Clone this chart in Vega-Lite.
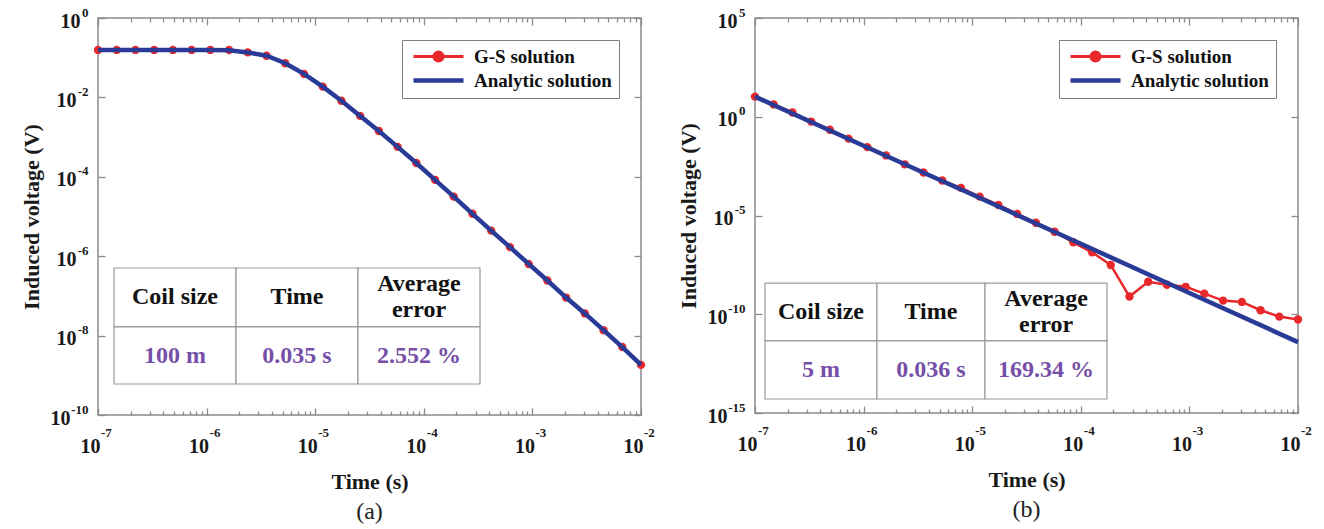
{
  "$schema": "https://vega.github.io/schema/vega-lite/v6.json",
  "background": "white",
  "padding": {"left": 19, "top": 5, "right": 10, "bottom": 0},
  "spacing": 20,
  "datasets": {
    "a": [
      {"t": 1e-7, "v": 0.157, "series": "G-S solution"},
      {"t": 1.4874e-7, "v": 0.157, "series": "G-S solution"},
      {"t": 2.2122e-7, "v": 0.157, "series": "G-S solution"},
      {"t": 3.2903e-7, "v": 0.157, "series": "G-S solution"},
      {"t": 4.8939e-7, "v": 0.157, "series": "G-S solution"},
      {"t": 7.279e-7, "v": 0.157, "series": "G-S solution"},
      {"t": 1.0827e-6, "v": 0.157, "series": "G-S solution"},
      {"t": 1.6103e-6, "v": 0.156, "series": "G-S solution"},
      {"t": 2.395e-6, "v": 0.136, "series": "G-S solution"},
      {"t": 3.5622e-6, "v": 0.112, "series": "G-S solution"},
      {"t": 5.2983e-6, "v": 0.0725, "series": "G-S solution"},
      {"t": 7.8805e-6, "v": 0.0392, "series": "G-S solution"},
      {"t": 1.1721e-5, "v": 0.0187, "series": "G-S solution"},
      {"t": 1.7433e-5, "v": 0.00822, "series": "G-S solution"},
      {"t": 2.5929e-5, "v": 0.00342, "series": "G-S solution"},
      {"t": 3.8566e-5, "v": 0.00142, "series": "G-S solution"},
      {"t": 5.7362e-5, "v": 5.68e-4, "series": "G-S solution"},
      {"t": 8.5317e-5, "v": 2.22e-4, "series": "G-S solution"},
      {"t": 1.269e-4, "v": 8.39e-5, "series": "G-S solution"},
      {"t": 1.8874e-4, "v": 3.16e-5, "series": "G-S solution"},
      {"t": 2.8072e-4, "v": 1.17e-5, "series": "G-S solution"},
      {"t": 4.1753e-4, "v": 4.41e-6, "series": "G-S solution"},
      {"t": 6.2102e-4, "v": 1.69e-6, "series": "G-S solution"},
      {"t": 9.2367e-4, "v": 6.38e-7, "series": "G-S solution"},
      {"t": 1.3738e-3, "v": 2.45e-7, "series": "G-S solution"},
      {"t": 2.0434e-3, "v": 9.08e-8, "series": "G-S solution"},
      {"t": 3.0392e-3, "v": 3.62e-8, "series": "G-S solution"},
      {"t": 4.5204e-3, "v": 1.37e-8, "series": "G-S solution"},
      {"t": 6.7234e-3, "v": 5.15e-9, "series": "G-S solution"},
      {"t": 1e-2, "v": 1.83e-9, "series": "G-S solution"},
      {"t": 1e-7, "v": 0.157, "series": "Analytic solution"},
      {"t": 1.0827e-6, "v": 0.157, "series": "Analytic solution"},
      {"t": 1.6103e-6, "v": 0.155, "series": "Analytic solution"},
      {"t": 2.395e-6, "v": 0.136, "series": "Analytic solution"},
      {"t": 3.5622e-6, "v": 0.112, "series": "Analytic solution"},
      {"t": 5.2983e-6, "v": 0.0725, "series": "Analytic solution"},
      {"t": 7.8805e-6, "v": 0.0392, "series": "Analytic solution"},
      {"t": 1.1721e-5, "v": 0.0187, "series": "Analytic solution"},
      {"t": 1.7433e-5, "v": 0.00822, "series": "Analytic solution"},
      {"t": 2.5929e-5, "v": 0.00342, "series": "Analytic solution"},
      {"t": 3.8566e-5, "v": 0.00142, "series": "Analytic solution"},
      {"t": 5.7362e-5, "v": 5.68e-4, "series": "Analytic solution"},
      {"t": 8.5317e-5, "v": 2.22e-4, "series": "Analytic solution"},
      {"t": 1.269e-4, "v": 8.39e-5, "series": "Analytic solution"},
      {"t": 1.8874e-4, "v": 3.16e-5, "series": "Analytic solution"},
      {"t": 2.8072e-4, "v": 1.17e-5, "series": "Analytic solution"},
      {"t": 4.1753e-4, "v": 4.41e-6, "series": "Analytic solution"},
      {"t": 6.2102e-4, "v": 1.69e-6, "series": "Analytic solution"},
      {"t": 9.2367e-4, "v": 6.38e-7, "series": "Analytic solution"},
      {"t": 1.3738e-3, "v": 2.45e-7, "series": "Analytic solution"},
      {"t": 2.0434e-3, "v": 9.08e-8, "series": "Analytic solution"},
      {"t": 3.0392e-3, "v": 3.62e-8, "series": "Analytic solution"},
      {"t": 4.5204e-3, "v": 1.37e-8, "series": "Analytic solution"},
      {"t": 6.7234e-3, "v": 5.15e-9, "series": "Analytic solution"},
      {"t": 1e-2, "v": 1.83e-9, "series": "Analytic solution"}
    ],
    "b": [
      {"t": 1e-7, "v": 10.4, "series": "G-S solution"},
      {"t": 1.4874e-7, "v": 4.2, "series": "G-S solution"},
      {"t": 2.2122e-7, "v": 1.65, "series": "G-S solution"},
      {"t": 3.2903e-7, "v": 0.57, "series": "G-S solution"},
      {"t": 4.8939e-7, "v": 0.22, "series": "G-S solution"},
      {"t": 7.279e-7, "v": 0.078, "series": "G-S solution"},
      {"t": 1.0827e-6, "v": 0.029, "series": "G-S solution"},
      {"t": 1.6103e-6, "v": 0.011, "series": "G-S solution"},
      {"t": 2.395e-6, "v": 0.0039, "series": "G-S solution"},
      {"t": 3.5622e-6, "v": 0.0015, "series": "G-S solution"},
      {"t": 5.2983e-6, "v": 5.9e-4, "series": "G-S solution"},
      {"t": 7.8805e-6, "v": 2.5e-4, "series": "G-S solution"},
      {"t": 1.1721e-5, "v": 9e-5, "series": "G-S solution"},
      {"t": 1.7433e-5, "v": 3.4e-5, "series": "G-S solution"},
      {"t": 2.5929e-5, "v": 1.2e-5, "series": "G-S solution"},
      {"t": 3.8566e-5, "v": 4.3e-6, "series": "G-S solution"},
      {"t": 5.7362e-5, "v": 1.5e-6, "series": "G-S solution"},
      {"t": 8.5317e-5, "v": 4.4e-7, "series": "G-S solution"},
      {"t": 1.269e-4, "v": 1.37e-7, "series": "G-S solution"},
      {"t": 1.8874e-4, "v": 3.1e-8, "series": "G-S solution"},
      {"t": 2.8072e-4, "v": 7.9e-10, "series": "G-S solution"},
      {"t": 4.1753e-4, "v": 4.4e-9, "series": "G-S solution"},
      {"t": 6.2102e-4, "v": 3.1e-9, "series": "G-S solution"},
      {"t": 9.2367e-4, "v": 2.45e-9, "series": "G-S solution"},
      {"t": 1.3738e-3, "v": 1.1e-9, "series": "G-S solution"},
      {"t": 2.0434e-3, "v": 4.9e-10, "series": "G-S solution"},
      {"t": 3.0392e-3, "v": 4.2e-10, "series": "G-S solution"},
      {"t": 4.5204e-3, "v": 1.6e-10, "series": "G-S solution"},
      {"t": 6.7234e-3, "v": 7.6e-11, "series": "G-S solution"},
      {"t": 1e-2, "v": 5.4e-11, "series": "G-S solution"},
      {"t": 1e-7, "v": 10.4, "series": "Analytic solution"},
      {"t": 1e-6, "v": 0.034, "series": "Analytic solution"},
      {"t": 1e-5, "v": 1.15e-4, "series": "Analytic solution"},
      {"t": 1e-4, "v": 3.7e-7, "series": "Analytic solution"},
      {"t": 1e-3, "v": 1.2e-9, "series": "Analytic solution"},
      {"t": 1e-2, "v": 3.9e-12, "series": "Analytic solution"}
    ],
    "tabA": [
      {"t0": 1.404e-7, "t1": 1.866e-6, "v0": 1.65e-8, "v1": 5.05e-7, "tc": 5.12e-7, "vc": 9.12e-8, "label": "Coil size", "kind": "head"},
      {"t0": 1.866e-6, "t1": 2.477e-5, "v0": 1.65e-8, "v1": 5.05e-7, "tc": 6.8e-6, "vc": 9.12e-8, "label": "Time", "kind": "head"},
      {"t0": 2.477e-5, "t1": 3.293e-4, "v0": 1.65e-8, "v1": 5.05e-7, "tc": 9.03e-5, "vc": 9.12e-8, "label": "Average\nerror", "kind": "head"},
      {"t0": 1.404e-7, "t1": 1.866e-6, "v0": 6.04e-10, "v1": 1.65e-8, "tc": 5.12e-7, "vc": 3.15e-9, "label": "100 m", "kind": "val"},
      {"t0": 1.866e-6, "t1": 2.477e-5, "v0": 6.04e-10, "v1": 1.65e-8, "tc": 6.8e-6, "vc": 3.15e-9, "label": "0.035 s", "kind": "val"},
      {"t0": 2.477e-5, "t1": 3.293e-4, "v0": 6.04e-10, "v1": 1.65e-8, "tc": 9.03e-5, "vc": 3.15e-9, "label": "2.552 %", "kind": "val"}
    ],
    "tabB": [
      {"t0": 1.236e-7, "t1": 1.327e-6, "v0": 4.47e-12, "v1": 3.8e-9, "tc": 4.05e-7, "vc": 1.35e-10, "label": "Coil size", "kind": "head"},
      {"t0": 1.327e-6, "t1": 1.312e-5, "v0": 4.47e-12, "v1": 3.8e-9, "tc": 4.17e-6, "vc": 1.35e-10, "label": "Time", "kind": "head"},
      {"t0": 1.312e-5, "t1": 1.742e-4, "v0": 4.47e-12, "v1": 3.8e-9, "tc": 4.79e-5, "vc": 1.35e-10, "label": "Average\nerror", "kind": "head"},
      {"t0": 1.236e-7, "t1": 1.327e-6, "v0": 5.13e-15, "v1": 4.47e-12, "tc": 4.05e-7, "vc": 1.51e-13, "label": "5 m", "kind": "val"},
      {"t0": 1.327e-6, "t1": 1.312e-5, "v0": 5.13e-15, "v1": 4.47e-12, "tc": 4.17e-6, "vc": 1.51e-13, "label": "0.036 s", "kind": "val"},
      {"t0": 1.312e-5, "t1": 1.742e-4, "v0": 5.13e-15, "v1": 4.47e-12, "tc": 4.79e-5, "vc": 1.51e-13, "label": "169.34 %", "kind": "val"}
    ]
  },
  "hconcat": [
    {
      "width": 543,
      "height": 397,
      "title": {"text": "(a)", "orient": "bottom", "frame": "group", "anchor": "middle", "font": "Liberation Serif", "fontSize": 24, "fontWeight": "normal", "color": "#222", "offset": 8},
      "layer": [
        {
          "data": {"name": "tabA"},
          "mark": {"type": "rect", "fill": "white", "stroke": "#9a9a9a", "strokeWidth": 1.2},
          "encoding": {
            "x": {"field": "t0", "type": "quantitative", "scale": {"type": "log", "domain": [1e-7, 0.01], "nice": false}, "axis": null},
            "x2": {"field": "t1"},
            "y": {"field": "v0", "type": "quantitative", "scale": {"type": "log", "domain": [1e-10, 1], "nice": false}, "axis": null},
            "y2": {"field": "v1"}
          }
        },
        {
          "data": {"name": "tabA"},
          "transform": [{"filter": "indexof(datum.label, '\\n') < 0"}],
          "mark": {"type": "text", "font": "Liberation Serif", "fontWeight": "bold", "fontSize": 24, "baseline": "middle", "align": "center"},
          "encoding": {
            "x": {"field": "tc", "type": "quantitative", "scale": {"type": "log", "domain": [1e-7, 0.01], "nice": false},
              "axis": {"orient": "bottom", "title": null, "ticks": false, "values": [1e-7, 1e-6, 1e-5, 1e-4, 1e-3, 1e-2],
                "labelExpr": "'' + round(log(datum.value)/LN10)", "labelFontSize": 13, "labelAlign": "left", "labelBaseline": "top", "labelOffset": 2.5, "labelPadding": 11}},
            "y": {"field": "vc", "type": "quantitative", "scale": {"type": "log", "domain": [1e-10, 1], "nice": false},
              "axis": {"orient": "left", "title": null, "ticks": false, "values": [1, 0.01, 1e-4, 1e-6, 1e-8, 1e-10],
                "labelExpr": "'' + round(log(datum.value)/LN10)", "labelFontSize": 13, "labelAlign": "right", "labelOffset": -6, "labelPadding": 10}},
            "text": {"field": "label"},
            "color": {"condition": {"test": "datum.kind === 'val'", "value": "#7650a8"}, "value": "#111111"}
          }
        },
        {
          "data": {"name": "tabA"},
          "transform": [{"filter": "indexof(datum.label, '\\n') >= 0"}],
          "mark": {"type": "text", "font": "Liberation Serif", "fontWeight": "bold", "fontSize": 24, "lineBreak": "\n", "lineHeight": 26, "dy": -13, "baseline": "middle", "align": "center"},
          "encoding": {
            "x": {"field": "tc", "type": "quantitative", "scale": {"type": "log", "domain": [1e-7, 0.01], "nice": false}, "axis": null},
            "y": {"field": "vc", "type": "quantitative", "scale": {"type": "log", "domain": [1e-10, 1], "nice": false}, "axis": null},
            "text": {"field": "label"},
            "color": {"value": "#111111"}
          }
        },
        {
          "data": {"name": "a"},
          "transform": [{"filter": "datum.series === 'G-S solution'"}],
          "mark": {"type": "line", "strokeWidth": 2.5, "point": {"filled": true, "size": 70, "opacity": 1}},
          "encoding": {
            "x": {"field": "t", "type": "quantitative", "scale": {"type": "log", "domain": [1e-7, 0.01], "nice": false},
              "axis": {"orient": "bottom", "title": "Time (s)",
                "values": [1e-7,2e-7,3e-7,4e-7,5e-7,6e-7,7e-7,8e-7,9e-7,1e-6,2e-6,3e-6,4e-6,5e-6,6e-6,7e-6,8e-6,9e-6,1e-5,2e-5,3e-5,4e-5,5e-5,6e-5,7e-5,8e-5,9e-5,1e-4,2e-4,3e-4,4e-4,5e-4,6e-4,7e-4,8e-4,9e-4,1e-3,2e-3,3e-3,4e-3,5e-3,6e-3,7e-3,8e-3,9e-3,1e-2],
                "labelExpr": "abs(log(datum.value)/LN10 - round(log(datum.value)/LN10)) > 0.01 ? '' : '10'",
                "tickSize": {"condition": {"test": "abs(log(datum.value)/LN10 - round(log(datum.value)/LN10)) < 0.01", "value": -7}, "value": -4},
                "labelBaseline": "top", "labelOffset": -8, "labelPadding": 28, "titlePadding": 12}},
            "y": {"field": "v", "type": "quantitative", "scale": {"type": "log", "domain": [1e-10, 1], "nice": false},
              "axis": {"orient": "left", "title": "Induced voltage (V)",
                "values": [1, 0.01, 1e-4, 1e-6, 1e-8, 1e-10],
                "labelExpr": "'10'",
                "tickSize": -7, "labelOffset": 3,
                "labelPadding": {"condition": [{"test": "datum.value >= 0.5", "value": 25}, {"test": "datum.value < 1e-9", "value": 35}], "value": 29},
                "titlePadding": 7}},
            "color": {"field": "series", "type": "nominal",
              "scale": {"domain": ["G-S solution", "Analytic solution"], "range": ["#e8282b", "#2a3a97"]},
              "legend": {"title": null, "orient": "top-right", "offset": 22, "padding": 7, "strokeColor": "#7f7f7f", "fillColor": "white",
                "labelFont": "Liberation Serif", "labelFontWeight": "bold", "labelFontSize": 19, "labelColor": "#111111",
                "labelOffset": 46, "symbolSize": 100, "symbolType": "M-1,0H9", "symbolStrokeWidth": 3, "rowPadding": 3,
                "encode": {"symbols": {"update": {
                  "shape": {"signal": "datum.value === 'G-S solution' ? 'M-1,0H9M4.9,0A0.9,0.9 0 1,1 3.1,0A0.9,0.9 0 1,1 4.9,0' : 'M-1,0H9'"},
                  "fill": {"signal": "datum.value === 'G-S solution' ? '#e8282b' : 'transparent'"},
                  "strokeWidth": {"signal": "datum.value === 'G-S solution' ? 3 : 4.5"}}}}}}
          }
        },
        {
          "data": {"name": "a"},
          "transform": [{"filter": "datum.series === 'Analytic solution'"}],
          "mark": {"type": "line", "strokeWidth": 4.5},
          "encoding": {
            "x": {"field": "t", "type": "quantitative", "scale": {"type": "log", "domain": [1e-7, 0.01], "nice": false},
              "axis": {"orient": "top", "title": null, "labels": false,
                "values": [1e-7,2e-7,3e-7,4e-7,5e-7,6e-7,7e-7,8e-7,9e-7,1e-6,2e-6,3e-6,4e-6,5e-6,6e-6,7e-6,8e-6,9e-6,1e-5,2e-5,3e-5,4e-5,5e-5,6e-5,7e-5,8e-5,9e-5,1e-4,2e-4,3e-4,4e-4,5e-4,6e-4,7e-4,8e-4,9e-4,1e-3,2e-3,3e-3,4e-3,5e-3,6e-3,7e-3,8e-3,9e-3,1e-2],
                "tickSize": {"condition": {"test": "abs(log(datum.value)/LN10 - round(log(datum.value)/LN10)) < 0.01", "value": -7}, "value": -4}}},
            "y": {"field": "v", "type": "quantitative", "scale": {"type": "log", "domain": [1e-10, 1], "nice": false},
              "axis": {"orient": "right", "title": null, "labels": false, "values": [1, 0.01, 1e-4, 1e-6, 1e-8, 1e-10], "tickSize": -7}},
            "color": {"field": "series", "type": "nominal", "scale": {"domain": ["G-S solution", "Analytic solution"], "range": ["#e8282b", "#2a3a97"]}}
          }
        }
      ],
      "resolve": {"axis": {"x": "independent", "y": "independent"}}
    },
    {
      "width": 543,
      "height": 395,
      "title": {"text": "(b)", "orient": "bottom", "frame": "group", "anchor": "middle", "font": "Liberation Serif", "fontSize": 24, "fontWeight": "normal", "color": "#222", "offset": 8},
      "layer": [
        {
          "data": {"name": "tabB"},
          "mark": {"type": "rect", "fill": "white", "stroke": "#9a9a9a", "strokeWidth": 1.2},
          "encoding": {
            "x": {"field": "t0", "type": "quantitative", "scale": {"type": "log", "domain": [1e-7, 0.01], "nice": false}, "axis": null},
            "x2": {"field": "t1"},
            "y": {"field": "v0", "type": "quantitative", "scale": {"type": "log", "domain": [1e-15, 1e5], "nice": false}, "axis": null},
            "y2": {"field": "v1"}
          }
        },
        {
          "data": {"name": "tabB"},
          "transform": [{"filter": "indexof(datum.label, '\\n') < 0"}],
          "mark": {"type": "text", "font": "Liberation Serif", "fontWeight": "bold", "fontSize": 24, "baseline": "middle", "align": "center"},
          "encoding": {
            "x": {"field": "tc", "type": "quantitative", "scale": {"type": "log", "domain": [1e-7, 0.01], "nice": false},
              "axis": {"orient": "bottom", "title": null, "ticks": false, "values": [1e-7, 1e-6, 1e-5, 1e-4, 1e-3, 1e-2],
                "labelExpr": "'' + round(log(datum.value)/LN10)", "labelFontSize": 13, "labelAlign": "left", "labelBaseline": "top", "labelOffset": 2.5, "labelPadding": 11}},
            "y": {"field": "vc", "type": "quantitative", "scale": {"type": "log", "domain": [1e-15, 1e5], "nice": false},
              "axis": {"orient": "left", "title": null, "ticks": false, "values": [1e5, 1, 1e-5, 1e-10, 1e-15],
                "labelExpr": "'' + round(log(datum.value)/LN10)", "labelFontSize": 13, "labelAlign": "right", "labelOffset": -6, "labelPadding": 10}},
            "text": {"field": "label"},
            "color": {"condition": {"test": "datum.kind === 'val'", "value": "#7650a8"}, "value": "#111111"}
          }
        },
        {
          "data": {"name": "tabB"},
          "transform": [{"filter": "indexof(datum.label, '\\n') >= 0"}],
          "mark": {"type": "text", "font": "Liberation Serif", "fontWeight": "bold", "fontSize": 24, "lineBreak": "\n", "lineHeight": 26, "dy": -13, "baseline": "middle", "align": "center"},
          "encoding": {
            "x": {"field": "tc", "type": "quantitative", "scale": {"type": "log", "domain": [1e-7, 0.01], "nice": false}, "axis": null},
            "y": {"field": "vc", "type": "quantitative", "scale": {"type": "log", "domain": [1e-15, 1e5], "nice": false}, "axis": null},
            "text": {"field": "label"},
            "color": {"value": "#111111"}
          }
        },
        {
          "data": {"name": "b"},
          "transform": [{"filter": "datum.series === 'G-S solution'"}],
          "mark": {"type": "line", "strokeWidth": 2.5, "point": {"filled": true, "size": 70, "opacity": 1}},
          "encoding": {
            "x": {"field": "t", "type": "quantitative", "scale": {"type": "log", "domain": [1e-7, 0.01], "nice": false},
              "axis": {"orient": "bottom", "title": "Time (s)",
                "values": [1e-7,2e-7,3e-7,4e-7,5e-7,6e-7,7e-7,8e-7,9e-7,1e-6,2e-6,3e-6,4e-6,5e-6,6e-6,7e-6,8e-6,9e-6,1e-5,2e-5,3e-5,4e-5,5e-5,6e-5,7e-5,8e-5,9e-5,1e-4,2e-4,3e-4,4e-4,5e-4,6e-4,7e-4,8e-4,9e-4,1e-3,2e-3,3e-3,4e-3,5e-3,6e-3,7e-3,8e-3,9e-3,1e-2],
                "labelExpr": "abs(log(datum.value)/LN10 - round(log(datum.value)/LN10)) > 0.01 ? '' : '10'",
                "tickSize": {"condition": {"test": "abs(log(datum.value)/LN10 - round(log(datum.value)/LN10)) < 0.01", "value": -7}, "value": -4},
                "labelBaseline": "top", "labelOffset": -8, "labelPadding": 28, "titlePadding": 12}},
            "y": {"field": "v", "type": "quantitative", "scale": {"type": "log", "domain": [1e-15, 1e5], "nice": false},
              "axis": {"orient": "left", "title": "Induced voltage (V)",
                "values": [1e5, 1, 1e-5, 1e-10, 1e-15],
                "labelExpr": "'10'",
                "tickSize": -7, "labelOffset": 3,
                "labelPadding": {"condition": [{"test": "datum.value >= 0.5", "value": 25}, {"test": "datum.value < 1e-9", "value": 35}], "value": 29},
                "titlePadding": 7}},
            "color": {"field": "series", "type": "nominal",
              "scale": {"domain": ["G-S solution", "Analytic solution"], "range": ["#e8282b", "#2a3a97"]},
              "legend": {"title": null, "orient": "top-right", "offset": 22, "padding": 7, "strokeColor": "#7f7f7f", "fillColor": "white",
                "labelFont": "Liberation Serif", "labelFontWeight": "bold", "labelFontSize": 19, "labelColor": "#111111",
                "labelOffset": 46, "symbolSize": 100, "symbolType": "M-1,0H9", "symbolStrokeWidth": 3, "rowPadding": 3,
                "encode": {"symbols": {"update": {
                  "shape": {"signal": "datum.value === 'G-S solution' ? 'M-1,0H9M4.9,0A0.9,0.9 0 1,1 3.1,0A0.9,0.9 0 1,1 4.9,0' : 'M-1,0H9'"},
                  "fill": {"signal": "datum.value === 'G-S solution' ? '#e8282b' : 'transparent'"},
                  "strokeWidth": {"signal": "datum.value === 'G-S solution' ? 3 : 4.5"}}}}}}
          }
        },
        {
          "data": {"name": "b"},
          "transform": [{"filter": "datum.series === 'Analytic solution'"}],
          "mark": {"type": "line", "strokeWidth": 4.5},
          "encoding": {
            "x": {"field": "t", "type": "quantitative", "scale": {"type": "log", "domain": [1e-7, 0.01], "nice": false},
              "axis": {"orient": "top", "title": null, "labels": false,
                "values": [1e-7,2e-7,3e-7,4e-7,5e-7,6e-7,7e-7,8e-7,9e-7,1e-6,2e-6,3e-6,4e-6,5e-6,6e-6,7e-6,8e-6,9e-6,1e-5,2e-5,3e-5,4e-5,5e-5,6e-5,7e-5,8e-5,9e-5,1e-4,2e-4,3e-4,4e-4,5e-4,6e-4,7e-4,8e-4,9e-4,1e-3,2e-3,3e-3,4e-3,5e-3,6e-3,7e-3,8e-3,9e-3,1e-2],
                "tickSize": {"condition": {"test": "abs(log(datum.value)/LN10 - round(log(datum.value)/LN10)) < 0.01", "value": -7}, "value": -4}}},
            "y": {"field": "v", "type": "quantitative", "scale": {"type": "log", "domain": [1e-15, 1e5], "nice": false},
              "axis": {"orient": "right", "title": null, "labels": false, "values": [1e5, 1, 1e-5, 1e-10, 1e-15], "tickSize": -7}},
            "color": {"field": "series", "type": "nominal", "scale": {"domain": ["G-S solution", "Analytic solution"], "range": ["#e8282b", "#2a3a97"]}}
          }
        }
      ],
      "resolve": {"axis": {"x": "independent", "y": "independent"}}
    }
  ],
  "resolve": {"scale": {"color": "independent"}, "legend": {"color": "independent"}},
  "config": {
    "font": "Liberation Serif",
    "view": {"stroke": "#8a8a8a", "strokeWidth": 1.5},
    "axis": {
      "domain": false, "grid": false,
      "tickColor": "#8a8a8a", "tickWidth": 1.3,
      "labelFont": "Liberation Serif", "labelFontWeight": "bold", "labelFontSize": 20, "labelColor": "#1a1a1a",
      "labelOverlap": false, "labelFlush": false,
      "titleFont": "Liberation Serif", "titleFontWeight": "bold", "titleFontSize": 22, "titleColor": "#1a1a1a"
    }
  }
}
